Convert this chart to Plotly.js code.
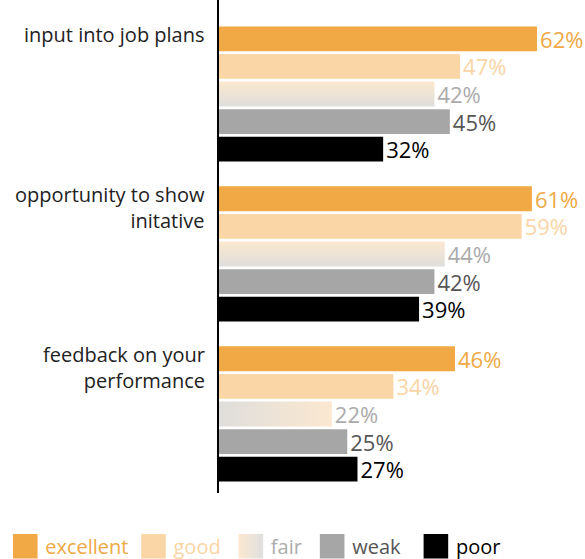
<!DOCTYPE html>
<html>
<head>
<meta charset="utf-8">
<script src="https://cdn.plot.ly/plotly-3.0.1.min.js"></script>
<style>html,body{margin:0;padding:0;background:#fff;}#chart{width:585px;height:559px;}</style>
</head>
<body>
<div id="chart"></div>
<script>
var categories = ["input into job plans", "opportunity to show initative", "feedback on your performance"];
var categoryLabels = ["input into job plans", "opportunity to show<br>initative", "feedback on your<br>performance"];
var seriesNames = ["excellent", "good", "fair", "weak", "poor"];
var excellent = [62, 61, 46];
var good = [47, 59, 34];
var fair = [42, 44, 22];
var weak = [45, 42, 25];
var poor = [32, 39, 27];
var seriesValues = [excellent, good, fair, weak, poor];
var barColors = ["#F0A944", "#FAD5A5", "#EEE6DC", "#A6A6A6", "#000000"];
var textColors = ["#F0A944", "#FAD5A5", "#ABABAB", "#555555", "#000000"];
var legendPad = [0, 1, 1, 2, 0];

var FONT = "Open Sans, Noto Sans, sans-serif";

var traces = seriesNames.map(function (n, i) {
  return {
    type: "bar",
    orientation: "h",
    name: '<span style="color:' + textColors[i] + '">' + n + '</span>' + "\u00a0".repeat(legendPad[i]),
    y: categories,
    x: seriesValues[i],
    marker: { color: barColors[i], line: { width: 0 } },
    text: seriesValues[i].map(function (v) { return v + "%"; }),
    textposition: "outside",
    constraintext: "none",
    textfont: { color: textColors[i], size: 22, family: FONT },
    cliponaxis: false,
    hoverinfo: "skip"
  };
});

var annotations = categories.map(function (c, i) {
  return {
    xref: "paper", yref: "y", x: 0, y: c,
    xanchor: "right", yanchor: "top", align: "right",
    xshift: -12, yshift: 75,
    text: categoryLabels[i], showarrow: false,
    font: { size: 20, color: "#222", family: FONT }
  };
});

var layout = {
  width: 585, height: 559,
  margin: { l: 219, r: 0, t: 0, b: 66, autoexpand: false },
  paper_bgcolor: "#fff", plot_bgcolor: "#fff",
  barmode: "group", bargap: 0.1375, bargroupgap: 0.1,
  showlegend: true,
  legend: {
    orientation: "h", x: -0.584, xanchor: "left", y: -0.108, yanchor: "middle",
    font: { size: 20, family: FONT }, traceorder: "normal", itemclick: false
  },
  xaxis: { range: [0, 71.35], showgrid: false, zeroline: false, showline: false, showticklabels: false, ticks: "", fixedrange: true },
  yaxis: { range: [2.494, -0.5875], showgrid: false, zeroline: false, showline: true, linecolor: "#000", linewidth: 2, showticklabels: false, ticks: "", fixedrange: true },
  annotations: annotations,
  font: { family: FONT }
};

Plotly.newPlot("chart", traces, layout, { displayModeBar: false, staticPlot: true }).then(function (gd) {
  var svg = gd.querySelector(".main-svg");
  var ns = "http://www.w3.org/2000/svg";
  var defs = document.createElementNS(ns, "defs");
  function grad(id, x2, y2, c1, c2) {
    var g = document.createElementNS(ns, "linearGradient");
    g.setAttribute("id", id);
    g.setAttribute("x1", "0"); g.setAttribute("y1", "0");
    g.setAttribute("x2", x2); g.setAttribute("y2", y2);
    var s1 = document.createElementNS(ns, "stop"); s1.setAttribute("offset", "0"); s1.setAttribute("stop-color", c1);
    var s2 = document.createElementNS(ns, "stop"); s2.setAttribute("offset", "1"); s2.setAttribute("stop-color", c2);
    g.appendChild(s1); g.appendChild(s2); defs.appendChild(g);
  }
  grad("fairV", "0", "1", "#FBE8D0", "#DFDEDC");
  grad("fairH", "1", "0", "#DFDEDC", "#FBE8D0");
  grad("fairL", "1", "0", "#FBE8D0", "#DFDFDF");
  svg.insertBefore(defs, svg.firstChild);
  var barTraces = gd.querySelectorAll(".barlayer .trace");
  if (barTraces[2]) {
    var pts = barTraces[2].querySelectorAll(".point path");
    pts.forEach(function (p, k) { p.style.fill = (k === 2) ? "url(#fairH)" : "url(#fairV)"; });
  }
  var legPaths = gd.querySelectorAll(".legend .traces .legendpoints path");
  legPaths.forEach(function (p, k) {
    var t = p.getAttribute("transform") || "";
    p.setAttribute("transform", t + " scale(2.05)");
    if (k === 2) p.style.fill = "url(#fairL)";
  });
});
</script>
</body>
</html>
